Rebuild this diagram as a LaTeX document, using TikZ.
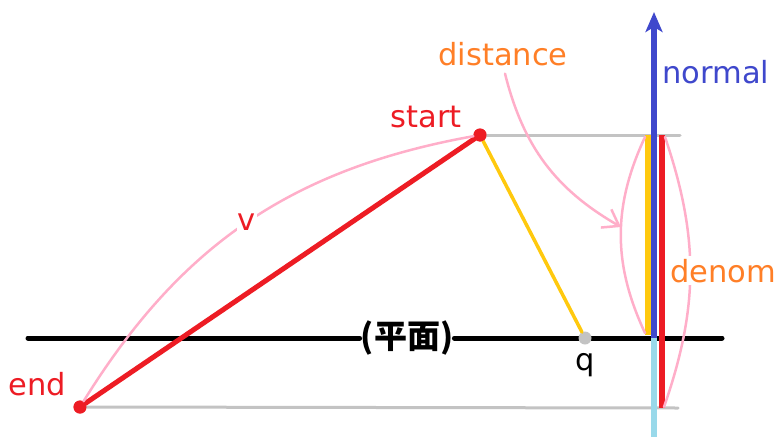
\documentclass[tikz,border=0pt]{standalone}
\usepackage{fontspec}
\setmainfont{DejaVu Sans}
\newfontfamily\jpfont{Noto Sans CJK JP}
\usetikzlibrary{arrows.meta,positioning}

\definecolor{pred}{RGB}{237,28,36}
\definecolor{porange}{RGB}{255,127,39}
\definecolor{pblue}{RGB}{63,72,204}
\definecolor{plight}{RGB}{153,217,234}
\definecolor{ppink}{RGB}{255,174,201}
\definecolor{pgray}{RGB}{195,195,195}
\definecolor{pyellow}{RGB}{255,201,14}

\begin{document}
\begin{tikzpicture}[x=1pt,y=1pt,line cap=round,
  font=\fontsize{30.5}{34}\selectfont,
  guide/.style={draw=pgray,line width=3pt},
  arc/.style={draw=ppink,line width=2.5pt},
  bar/.style={line width=5.5pt,line cap=butt},
  lbl/.style={inner sep=2pt,anchor=base},
  dot/.style={circle,inner sep=0pt,minimum size=13pt}]

\useasboundingbox (0,0) rectangle (782,-442);

% points of the picture
\node[dot,fill=pred](start) at (480,-135){};
\node[dot,fill=pred](end) at (80,-407){};
\coordinate(gtop) at (680,-135);
\coordinate(gbot) at (678,-408);
\coordinate(pl) at (28,-338);
\coordinate(pr) at (722,-338);
\node[inner sep=1pt](plane) at (407,-338){\fontsize{33}{36}\selectfont\jpfont\bfseries (平面)};

% vertical bars
\coordinate(ytop) at (648,-135);
\coordinate(ybot) at (648,-335);
\coordinate(ntail) at (654,-338);
\coordinate(ntip) at (654,-12);
\coordinate(nfoot) at (654,-437);
\coordinate(rtop) at (662,-135);
\coordinate(rbot) at (662,-408);

% guides and plane
\path(start) edge[guide] (gtop)
  (end) edge[guide] (gbot);
\draw[line width=5pt] (pl) -- (plane) -- (pr);

\draw[bar,plight] (ntail) -- (nfoot);
\draw[bar,pyellow] (ytop) -- (ybot);
\draw[bar,pred] (rtop) -- (rbot);
\draw[bar,pblue,-{Stealth[length=20pt,width=17pt,inset=5pt]}] (ntail) -- (ntip);

% vectors
\draw[pred,line width=5pt] (start) -- (end);
\node[dot,fill=pgray](q) at (585,-338){};
\draw[pyellow,line width=3.5pt] (start) -- (q);
\node[dot,fill=pred] at (start){};
\node[dot,fill=pred] at (end){};

% labels
\node[lbl,text=pred] at (426,-127){start};
\node[lbl,text=pred] at (37,-395){end};
\node[lbl] at (585,-370){q};
\node[lbl,text=pblue] at (716,-83){normal};
\node[lbl,text=porange](distance) at (503,-65){distance};

% pink arcs
\coordinate(dtip) at (621,-227);
\coordinate(lat) at (645,-137);
\coordinate(lab) at (645,-333);
\coordinate(rat) at (665,-137);
\coordinate(rab) at (664,-407);
\path(end) edge[arc,bend left=24] node[fill=white,text=pred,inner sep=1pt]{v} (start)
  ([yshift=-6pt,xshift=2pt]distance.south) edge[arc,bend right=23,-{Straight Barb[length=15pt,width=21pt]}] (dtip)
  (lat) edge[arc,bend right=25] (lab)
  (rat) edge[arc,bend left=19] (rab);
\node[lbl,text=porange,fill=white,inner sep=3pt] at (723,-282){denom};

\end{tikzpicture}
\end{document}
